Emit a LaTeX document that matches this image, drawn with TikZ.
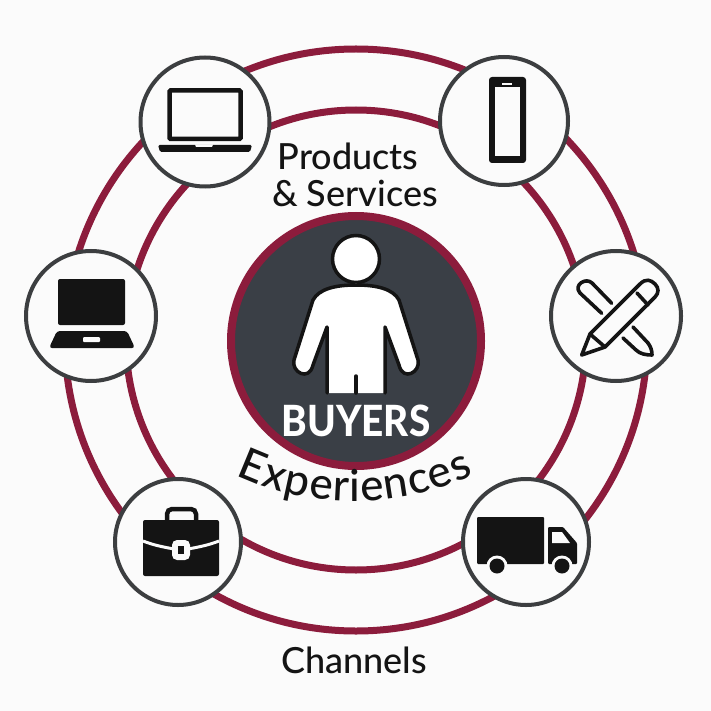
\documentclass[tikz,border=0pt]{standalone}
\usepackage{fontspec}
\setmainfont{Lato}
\newfontfamily\labelfont{Lato Medium}
\newfontfamily\hubfont{Lato Heavy}
\usetikzlibrary{decorations.text}
\definecolor{wine}{HTML}{8C1C3C}
\definecolor{slate}{HTML}{3A3F46}
\definecolor{iconline}{HTML}{3C3E40}
\definecolor{ink}{HTML}{141414}
\definecolor{paper}{HTML}{FBFBFB}
\tikzset{
    bigring/.style={circle,draw=wine,line width=7pt,outer sep=0pt,inner sep=0pt},
    iconring/.style={circle,draw=iconline,fill=paper,line width=4pt,outer sep=0pt,inner sep=0pt},
    label/.style={text=ink,font=\labelfont\fontsize{36}{40}\selectfont,align=center,inner sep=0pt},
    cut/.style={fill=paper},
    pen/.style={draw=ink,line width=3.6pt,line join=round,line cap=round}
}
\begin{document}
\begin{tikzpicture}[x=1pt,y=-1pt]
    \fill[paper] (0,0) rectangle (711,711);
    \useasboundingbox (0,0) rectangle (711,711);

    \node[bigring,minimum size=582pt] (channelring) at (356,340) {};
    \node[bigring,minimum size=460pt] (productring) at (356,340) {};
    \node[circle,draw=wine,fill=slate,line width=8pt,outer sep=0pt,inner sep=0pt,minimum size=250pt] (hub) at (356,341) {};

    % person
    \draw[draw=ink,fill=white,line width=3.5pt] (356,259) circle (23.5);
    \fill[white,rounded corners=2pt] (356,285) .. controls (335,285) and (319,289) .. (313,300)
        -- (294,360) .. controls (291,372) and (309,382) .. (313,365) -- (327,327) -- (327,393) -- (385,393) -- (385,327)
        -- (399,365) .. controls (403,382) and (421,372) .. (418,360) -- (399,300)
        .. controls (393,289) and (377,285) .. (356,285) -- cycle;
    \draw[draw=ink,line width=3.5pt,line cap=round,line join=round] (327,393) -- (327,327) -- (313,365)
        .. controls (309,382) and (291,372) .. (294,360) -- (313,300)
        .. controls (319,289) and (335,285) .. (356,285)
        .. controls (377,285) and (393,289) .. (399,300) -- (418,360)
        .. controls (421,372) and (403,382) .. (399,365) -- (385,327) -- (385,393);
    \draw[draw=ink,line width=3.5pt,line cap=round] (356,376) -- (356,393);
    \node[text=white,font=\hubfont\fontsize{43}{48}\selectfont,inner sep=0pt] (buyers) at (356,421) {\scalebox{.9}[1]{BUYERS}};

    % labels
    \node[label] (products) at (348,156) {Products};
    \node[label] (services) at (355,193) {\& Services};
    \node[label] (channels) at (354,660) {Channels};
    \path[postaction={decorate,decoration={text along path,text align={fit to path},
        text={|\labelfont\fontsize{44}{48}\selectfont\color{ink}|Experiences}}}]
        (236,475) arc[start angle=115,end angle=65,radius=281];

    % icon rings
    \node[iconring,minimum size=129pt] (laptop)    at (205,122) {};
    \node[iconring,minimum size=128pt] (phone)     at (504,121) {};
    \node[iconring,minimum size=130pt] (notebook)  at (91,316)  {};
    \node[iconring,minimum size=130pt] (pencils)   at (616,316) {};
    \node[iconring,minimum size=126pt] (briefcase) at (178,542) {};
    \node[iconring,minimum size=126pt] (truck)     at (526,542) {};

    % laptop
    \draw[draw=ink,line width=4.5pt,rounded corners=1pt] (169.5,90.5) rectangle (240.5,139);
    \fill[ink,rounded corners=1.5pt] (158,145) -- (252,145) -- (250,152) -- (160,152) -- cycle;
    \fill[cut] (195,144.5) -- (213,144.5) -- (212,147) -- (196,147) -- cycle;

    % phone
    \fill[ink,rounded corners=3pt] (489,77) rectangle (526,163);
    \fill[cut] (494.5,87.5) rectangle (520,156);
    \fill[cut] (502,83) rectangle (512,85);

    % notebook
    \fill[ink,rounded corners=2pt] (58,279) -- (125,279) -- (125,325) -- (58,325) -- cycle;
    \fill[ink,rounded corners=3pt] (57,331) -- (127,331) -- (135,348) -- (49,348) -- cycle;
    \fill[cut,rounded corners=1pt] (83,337) rectangle (100,342);

    % pencils
    \draw[pen] (611.7,303.3) -- (592,283) .. controls (586,277) and (573,285) .. (580,293) -- (601.7,313.3);
    \draw[pen] (633,327) -- (648,343) .. controls (651,347) and (652,351) .. (652,355) .. controls (646,355) and (640,354) .. (636,350) -- (623,338);
    \draw[pen] (581.7,355) -- (590,334) -- (640,284) .. controls (646,278) and (651,280) .. (655,284)
        .. controls (659,288) and (659,293) .. (655,297) -- (605,347) -- cycle;
    \draw[pen] (637,293) -- (648,305);
    \draw[pen] (590,334) -- (605,347);

    % briefcase
    \draw[draw=ink,line width=4.5pt,rounded corners=5pt] (167,522) -- (167,509) -- (196,509) -- (196,522);
    \fill[ink,rounded corners=2pt] (143,520) rectangle (219,576);
    \draw[draw=paper,line width=3pt] (143,541) .. controls (153,545) and (163,547) .. (174,549);
    \draw[draw=paper,line width=3pt] (219,541) .. controls (209,545) and (199,547) .. (188,549);
    \fill[cut,rounded corners=5pt] (172,540) rectangle (190,560);
    \fill[ink] (178,546) rectangle (184,554);

    % truck
    \fill[ink,rounded corners=1pt] (477,517) rectangle (544,564);
    \fill[ink,rounded corners=1pt] (548,527) -- (563,527) -- (577,543) -- (577,564) -- (548,564) -- cycle;
    \fill[cut] (552,532) -- (562,532) -- (570,543) -- (552,543) -- cycle;
    \fill[cut] (497,566) circle (10.5);
    \fill[cut] (562,566) circle (10.5);
    \fill[ink] (497,566) circle (7.5);
    \fill[ink] (562,566) circle (7.5);
\end{tikzpicture}
\end{document}
